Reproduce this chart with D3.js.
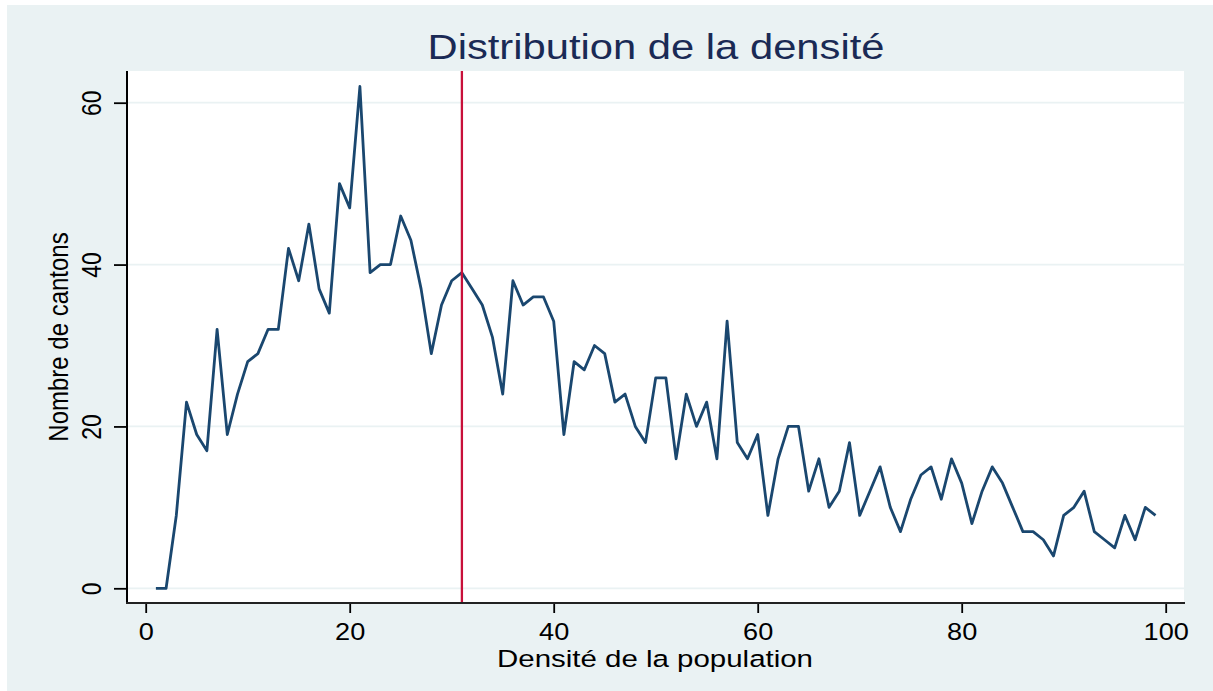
<!DOCTYPE html>
<html><head><meta charset="utf-8">
<script src="https://cdn.jsdelivr.net/npm/d3@7"></script>
<style>body{margin:0;background:#fff;} text{font-family:"Liberation Sans",Arial,sans-serif;}</style>
</head><body>
<svg id="c" width="1213" height="691"></svg>
<script>
// ---- data ----
const densite = [1,2,3,4,5,6,7,8,9,10,11,12,13,14,15,16,17,18,19,20,21,22,23,24,25,26,27,28,29,30,31,32,33,34,35,36,37,38,39,40,41,42,43,44,45,46,47,48,49,50,51,52,53,54,55,56,57,58,59,60,61,62,63,64,65,66,67,68,69,70,71,72,73,74,75,76,77,78,79,80,81,82,83,84,85,86,87,88,89,90,91,92,93,94,95,96,97,98,99];
const cantons = [0,0,9,23,19,17,32,19,24,28,29,32,32,42,38,45,37,34,50,47,62,39,40,40,46,43,37,29,35,38,39,37,35,31,24,38,35,36,36,33,19,28,27,30,29,23,24,20,18,26,26,16,24,20,23,16,33,18,16,19,9,16,20,20,12,16,10,12,18,9,12,15,10,7,11,14,15,11,16,13,8,12,15,13,10,7,7,6,4,9,10,12,7,6,5,9,6,10,9];
const xTicks = [0,20,40,60,80,100];
const yTicks = [0,20,40,60];
const markerX = 31;
const titleText = "Distribution de la densité";
const xTitle = "Densité de la population";
const yTitle = "Nombre de cantons";

// ---- layout ----
const svg = d3.select("#c");
const P = {l:127, r:1184, t:71, b:603};
const SX = 1.18; // horizontal stretch of text
const x = d3.scaleLinear().domain([0,100]).range([145.7,1165.7]);
const y = d3.scaleLinear().domain([0,60]).range([588.3,102.7]);

svg.append("rect").attr("x",7).attr("y",5).attr("width",1206).attr("height",686).attr("fill","#eaf2f3");
svg.append("rect").attr("x",P.l).attr("y",P.t).attr("width",P.r-P.l).attr("height",P.b-P.t).attr("fill","#ffffff");

// gridlines
svg.append("g").selectAll("line").data(yTicks).join("line")
  .attr("x1",P.l).attr("x2",P.r).attr("y1",d=>y(d)).attr("y2",d=>y(d))
  .attr("stroke","#eaf2f3").attr("stroke-width",1.8);

// data line
const pts = densite.map((d,i)=>[d,cantons[i]]);
svg.append("path").datum(pts)
  .attr("d", d3.line().x(d=>x(d[0])).y(d=>y(d[1])))
  .attr("fill","none").attr("stroke","#1a476f").attr("stroke-width",2.8)
  .attr("stroke-linejoin","round");

// reference line
svg.append("line").attr("x1",x(markerX)).attr("x2",x(markerX)).attr("y1",P.t).attr("y2",P.b)
  .attr("stroke","#c8103a").attr("stroke-width",2.3);

// x axis
const gx = svg.append("g").attr("transform",`translate(0,${P.b})`)
  .call(d3.axisBottom(x).tickValues(xTicks).tickSize(10).tickSizeOuter(0).tickFormat(d3.format("d")));
gx.select(".domain").remove();
gx.selectAll(".tick line").attr("stroke","#000").attr("stroke-width",1.8);
gx.selectAll(".tick text").attr("y",null).attr("dy",null)
  .attr("transform",`translate(0,36.5) scale(${SX},1)`)
  .attr("font-size",23).attr("fill","#000").attr("text-anchor","middle")
  .attr("font-family","Liberation Sans, Arial, sans-serif");

// y axis
const gy = svg.append("g").attr("transform",`translate(${P.l},0)`)
  .call(d3.axisLeft(y).tickValues(yTicks).tickSize(13).tickSizeOuter(0).tickFormat(d3.format("d")));
gy.select(".domain").remove();
gy.selectAll(".tick line").attr("stroke","#000").attr("stroke-width",1.8);
gy.selectAll(".tick text").attr("x",null).attr("dy",null)
  .attr("transform",`translate(-26,0) scale(${SX},1) rotate(-90)`)
  .attr("font-size",23).attr("fill","#000").attr("text-anchor","middle")
  .attr("font-family","Liberation Sans, Arial, sans-serif");

// axis lines
svg.append("line").attr("x1",P.l).attr("x2",P.l).attr("y1",P.t).attr("y2",P.b+1)
  .attr("stroke","#000").attr("stroke-width",2);
svg.append("line").attr("x1",P.l-1).attr("x2",P.r+1).attr("y1",P.b).attr("y2",P.b)
  .attr("stroke","#222").attr("stroke-width",2);

// titles
svg.append("text").attr("x",656).attr("y",59)
  .attr("text-anchor","middle").attr("font-size",35).attr("fill","#1a2a55")
  .attr("textLength",457).attr("lengthAdjust","spacingAndGlyphs").text(titleText);
svg.append("text").attr("x",655).attr("y",667)
  .attr("text-anchor","middle").attr("font-size",24.5).attr("fill","#000")
  .attr("textLength",316).attr("lengthAdjust","spacingAndGlyphs").text(xTitle);
svg.append("text").attr("transform",`translate(68,337) scale(${SX},1) rotate(-90)`)
  .attr("text-anchor","middle").attr("font-size",24).attr("fill","#000").text(yTitle);
</script>
</body></html>
